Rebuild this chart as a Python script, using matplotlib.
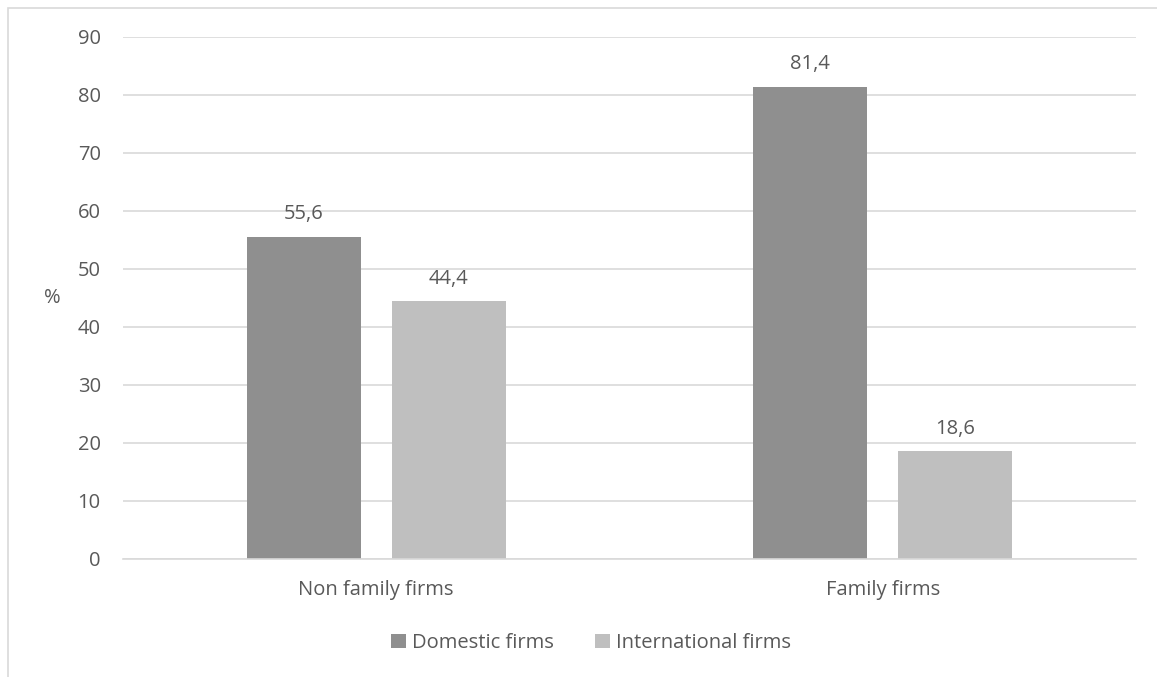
import matplotlib.pyplot as plt
import numpy as np
from matplotlib.patches import Rectangle

categories = ["Non family firms", "Family firms"]
series_names = ["Domestic firms", "International firms"]
domestic = [55.6, 81.4]
international = [44.4, 18.6]
yticks = [0, 10, 20, 30, 40, 50, 60, 70, 80, 90]

colors = ["#8f8f8f", "#bfbfbf"]
text_col = "#595959"

plt.rcParams['font.family'] = ['Open Sans', 'DejaVu Sans']
fs = 14.5

W, H = 1157, 677
fig = plt.figure(figsize=(W / 100, H / 100), dpi=100)
ax = fig.add_axes([123 / W, 1 - 559 / H, (1136 - 123) / W, (559 - 37) / H])

x = np.arange(len(categories))
width = 0.225
offset = 0.143
for vals, name, col, off in [(domestic, series_names[0], colors[0], -offset),
                             (international, series_names[1], colors[1], offset)]:
    bars = ax.bar(x + off, vals, width, color=col, label=name, zorder=2)
    for b, v in zip(bars, vals):
        ax.annotate(f"{v:.1f}".replace(".", ","), (b.get_x() + b.get_width() / 2, v),
                    xytext=(0, 9), textcoords="offset points", ha="center",
                    va="bottom", fontsize=fs, color=text_col)

ax.set_xlim(-0.5, 1.5)
ax.set_ylim(0, 90)
ax.set_yticks(yticks)
ax.set_xticks(x)
ax.set_xticklabels(categories)
ax.tick_params(axis="both", length=0, labelsize=fs, colors=text_col)
ax.tick_params(axis="y", pad=16)
ax.tick_params(axis="x", pad=15)
ax.grid(axis="y", color="#d9d9d9", linewidth=1.2, zorder=0)
for s in ["top", "right", "left"]:
    ax.spines[s].set_visible(False)
ax.spines["bottom"].set_color("#d9d9d9")
ax.spines["bottom"].set_linewidth(1.2)
ax.set_ylabel("%", rotation=0, fontsize=fs, color=text_col, labelpad=18, va="center")

ax.legend(loc="center", bbox_to_anchor=(0.462, -0.161), ncol=2, frameon=False,
          fontsize=fs, labelcolor=text_col, handlelength=0.75, handleheight=0.75,
          handletextpad=0.3, columnspacing=2.0)

fig.patches.append(Rectangle((8 / W, -0.1), 1.2, 1.1 - 8 / H, transform=fig.transFigure,
                             fill=False, edgecolor="#d9d9d9", linewidth=1.2))

fig.savefig("out.png", dpi=100)
